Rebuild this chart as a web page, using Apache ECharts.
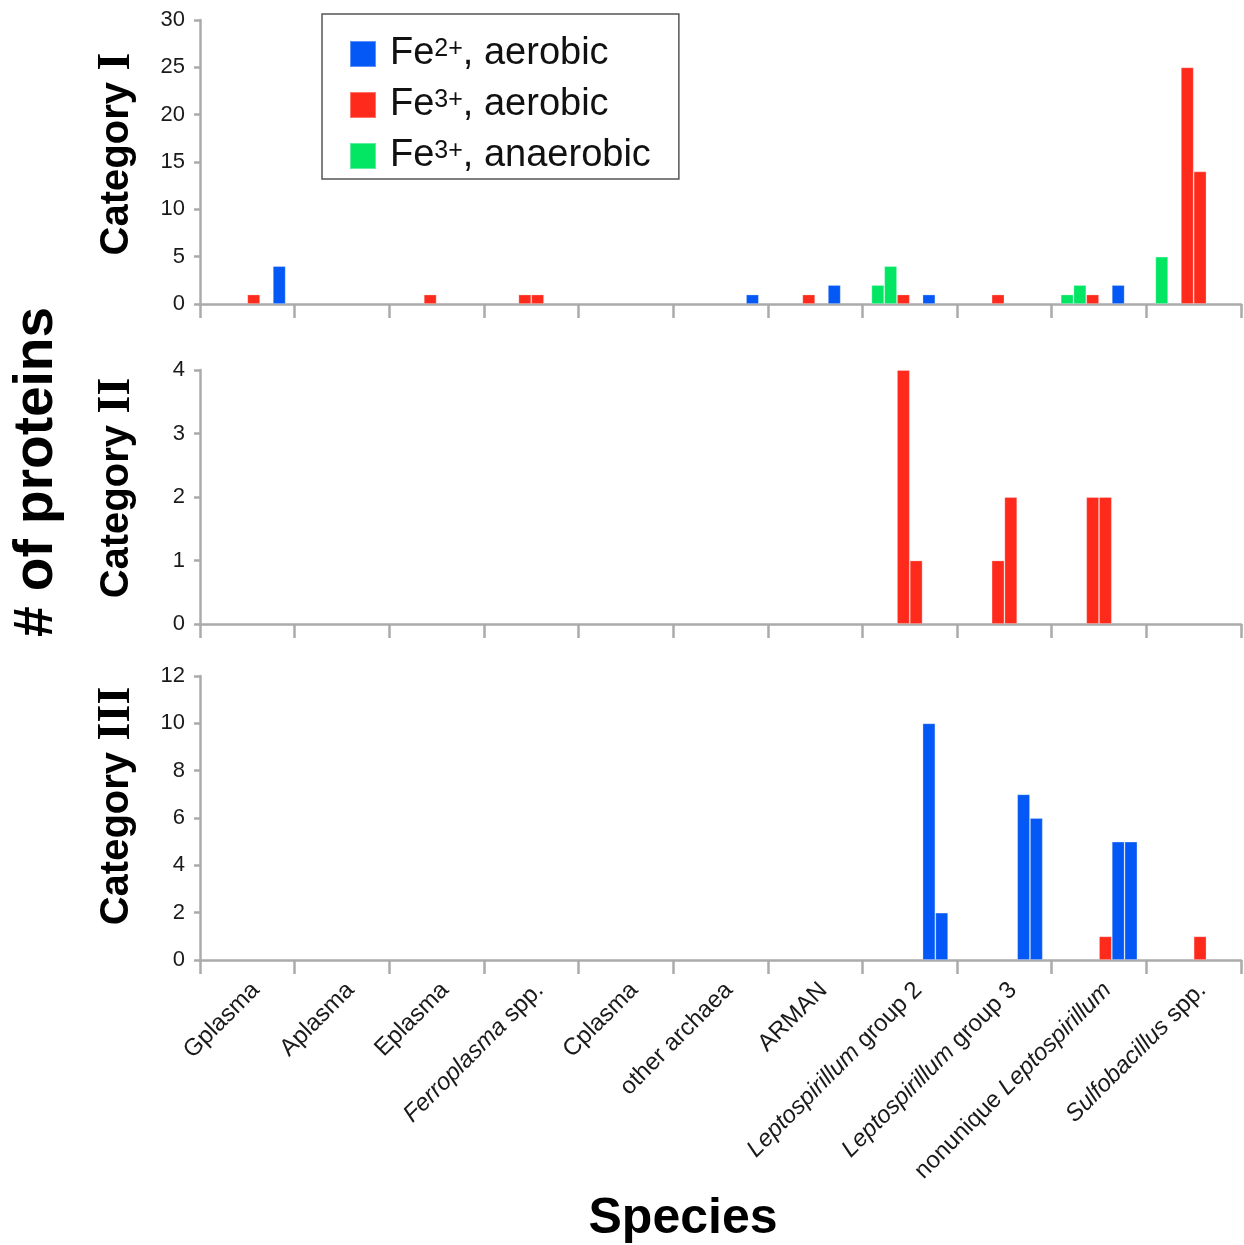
<!DOCTYPE html>
<html>
<head>
<meta charset="utf-8">
<script src="https://cdn.jsdelivr.net/npm/echarts@6/dist/echarts.min.js"></script>
<style>
  html, body { margin: 0; padding: 0; background: #ffffff; }
  #chart { width: 1244px; height: 1245px; }
</style>
</head>
<body>
<div id="chart"></div>
<script>
// Species along the shared x axis
const species = ['Gplasma', 'Aplasma', 'Eplasma', 'Ferroplasma spp.', 'Cplasma', 'other archaea',
  'ARMAN', 'Leptospirillum group 2', 'Leptospirillum group 3', 'nonunique Leptospirillum', 'Sulfobacillus spp.'];
// Genus names set in italics in the axis labels
const italicWords = ['Ferroplasma', 'Leptospirillum', 'Sulfobacillus'];

// Condition names (two columns per condition in every species group)
const conditions = ['Fe3+, anaerobic', 'Fe3+, aerobic', 'Fe2+, aerobic'];
const legendOrder = ['Fe2+, aerobic', 'Fe3+, aerobic', 'Fe3+, anaerobic'];

// Category I protein counts
const cat1AnaerobicA = [0, 0, 0, 0, 0, 0, 0, 2, 0, 1, 5];
const cat1AnaerobicB = [0, 0, 0, 0, 0, 0, 0, 4, 0, 2, 0];
const cat1Fe3AerobicA = [0, 0, 1, 1, 0, 0, 1, 1, 1, 1, 25];
const cat1Fe3AerobicB = [1, 0, 0, 1, 0, 0, 0, 0, 0, 0, 14];
const cat1Fe2AerobicA = [0, 0, 0, 0, 0, 0, 2, 1, 0, 2, 0];
const cat1Fe2AerobicB = [4, 0, 0, 0, 0, 1, 0, 0, 0, 0, 0];

// Category II protein counts
const cat2AnaerobicA = [0, 0, 0, 0, 0, 0, 0, 0, 0, 0, 0];
const cat2AnaerobicB = [0, 0, 0, 0, 0, 0, 0, 0, 0, 0, 0];
const cat2Fe3AerobicA = [0, 0, 0, 0, 0, 0, 0, 4, 1, 2, 0];
const cat2Fe3AerobicB = [0, 0, 0, 0, 0, 0, 0, 1, 2, 2, 0];
const cat2Fe2AerobicA = [0, 0, 0, 0, 0, 0, 0, 0, 0, 0, 0];
const cat2Fe2AerobicB = [0, 0, 0, 0, 0, 0, 0, 0, 0, 0, 0];

// Category III protein counts
const cat3AnaerobicA = [0, 0, 0, 0, 0, 0, 0, 0, 0, 0, 0];
const cat3AnaerobicB = [0, 0, 0, 0, 0, 0, 0, 0, 0, 0, 0];
const cat3Fe3AerobicA = [0, 0, 0, 0, 0, 0, 0, 0, 0, 0, 0];
const cat3Fe3AerobicB = [0, 0, 0, 0, 0, 0, 0, 0, 0, 1, 1];
const cat3Fe2AerobicA = [0, 0, 0, 0, 0, 0, 0, 10, 7, 5, 0];
const cat3Fe2AerobicB = [0, 0, 0, 0, 0, 0, 0, 2, 6, 5, 0];

// Y-axis ranges per panel
const yMax = [30, 4, 12];
const yStep = [5, 1, 2];
const panelNumerals = ['I', 'II', 'III'];

const panels = [
  [cat1AnaerobicA, cat1AnaerobicB, cat1Fe3AerobicA, cat1Fe3AerobicB, cat1Fe2AerobicA, cat1Fe2AerobicB],
  [cat2AnaerobicA, cat2AnaerobicB, cat2Fe3AerobicA, cat2Fe3AerobicB, cat2Fe2AerobicA, cat2Fe2AerobicB],
  [cat3AnaerobicA, cat3AnaerobicB, cat3Fe3AerobicA, cat3Fe3AerobicB, cat3Fe2AerobicA, cat3Fe2AerobicB]
];

const colors = {
  'Fe2+, aerobic': '#0459F6',
  'Fe3+, aerobic': '#FE2A1C',
  'Fe3+, anaerobic': '#02E664'
};

const axisGray = '#ababab';
const textColor = '#1a1a1a';

const grids = [
  { left: 200, right: 3, top: 20, height: 284 },
  { left: 200, right: 3, top: 370, height: 254 },
  { left: 200, right: 3, top: 676, height: 284 }
];

function speciesLabel(name) {
  let s = name;
  italicWords.forEach(w => { s = s.replace(w, '{i|' + w + '}'); });
  return s;
}

const xAxes = grids.map((g, i) => ({
  type: 'category',
  gridIndex: i,
  data: species,
  boundaryGap: true,
  axisLine: { show: true, lineStyle: { color: axisGray, width: 2.5 } },
  axisTick: { show: true, interval: 0, length: 14, lineStyle: { color: axisGray, width: 2.5 } },
  axisLabel: i === 2 ? {
    show: true,
    interval: 0,
    rotate: 45,
    align: 'right',
    verticalAlign: 'top',
    margin: 18,
    fontFamily: 'Liberation Sans',
    fontSize: 24,
    color: textColor,
    formatter: speciesLabel,
    rich: { i: { fontStyle: 'italic', fontFamily: 'Liberation Sans', fontSize: 24, color: textColor } }
  } : { show: false }
}));

const yAxes = grids.map((g, i) => ({
  type: 'value',
  gridIndex: i,
  min: 0,
  max: yMax[i],
  interval: yStep[i],
  splitLine: { show: false },
  axisLine: { show: true, lineStyle: { color: axisGray, width: 2.5 } },
  axisTick: { show: true, length: 6, lineStyle: { color: axisGray, width: 2.5 } },
  axisLabel: { margin: 15, fontFamily: 'Liberation Sans', fontSize: 22, color: textColor }
}));

const series = [];
panels.forEach((cols, gi) => {
  cols.forEach((values, ci) => {
    const name = conditions[Math.floor(ci / 2)];
    series.push({
      type: 'bar',
      name: name,
      xAxisIndex: gi,
      yAxisIndex: gi,
      barGap: '0%',
      barCategoryGap: '19%',
      data: values.map(v => (v === 0 ? '-' : v)),
      itemStyle: { color: colors[name], borderColor: 'rgba(255,255,255,0.35)', borderWidth: 0.8 },
      emphasis: { disabled: true }
    });
  });
});

const legendRich = {
  n: { fontFamily: 'Liberation Sans', fontSize: 38, color: '#111', lineHeight: 38 },
  s: { fontFamily: 'Liberation Sans', fontSize: 25, color: '#111', verticalAlign: 'top', lineHeight: 38, padding: [2, 0, 0, 0] }
};

function legendText(name) {
  const m = name.match(/^Fe(\d\+)(.*)$/);
  return '{n|Fe}{s|' + m[1] + '}{n|' + m[2] + '}';
}

const titleGraphics = panelNumerals.map((num, i) => ({
  type: 'text',
  x: 117,
  y: [154, 488, 806][i],
  rotation: Math.PI / 2,
  style: {
    text: '{a|Category}{b| ' + num + '}',
    align: 'center',
    verticalAlign: 'middle',
    rich: {
      a: { fontFamily: 'Liberation Sans', fontWeight: 'bold', fontSize: 40, fill: '#000' },
      b: { fontFamily: 'Liberation Serif', fontWeight: 'bold', fontSize: 46, fill: '#000' }
    }
  }
}));

const option = {
  animation: false,
  backgroundColor: '#ffffff',
  grid: grids,
  xAxis: xAxes,
  yAxis: yAxes,
  series: series,
  legend: {
    data: legendOrder,
    orient: 'vertical',
    left: 322,
    top: 14,
    padding: [21, 28, 4, 27],
    itemGap: 13,
    itemWidth: 26,
    itemHeight: 26,
    borderColor: '#555555',
    borderWidth: 1.5,
    backgroundColor: '#ffffff',
    icon: 'rect',
    selectedMode: false,
    formatter: legendText,
    textStyle: { rich: legendRich, padding: [0, 0, 0, 9] }
  },
  graphic: [
    ...titleGraphics,
    {
      type: 'text',
      x: 37,
      y: 472,
      rotation: Math.PI / 2,
      style: {
        text: '# of proteins',
        align: 'center',
        verticalAlign: 'middle',
        font: 'bold 55px "Liberation Sans"',
        fill: '#000'
      }
    },
    {
      type: 'text',
      x: 683,
      y: 1219,
      style: {
        text: 'Species',
        align: 'center',
        verticalAlign: 'middle',
        font: 'bold 50px "Liberation Sans"',
        fill: '#000'
      }
    }
  ]
};

const chart = echarts.init(document.getElementById('chart'), null, { renderer: 'canvas' });
chart.setOption(option);
</script>
</body>
</html>
